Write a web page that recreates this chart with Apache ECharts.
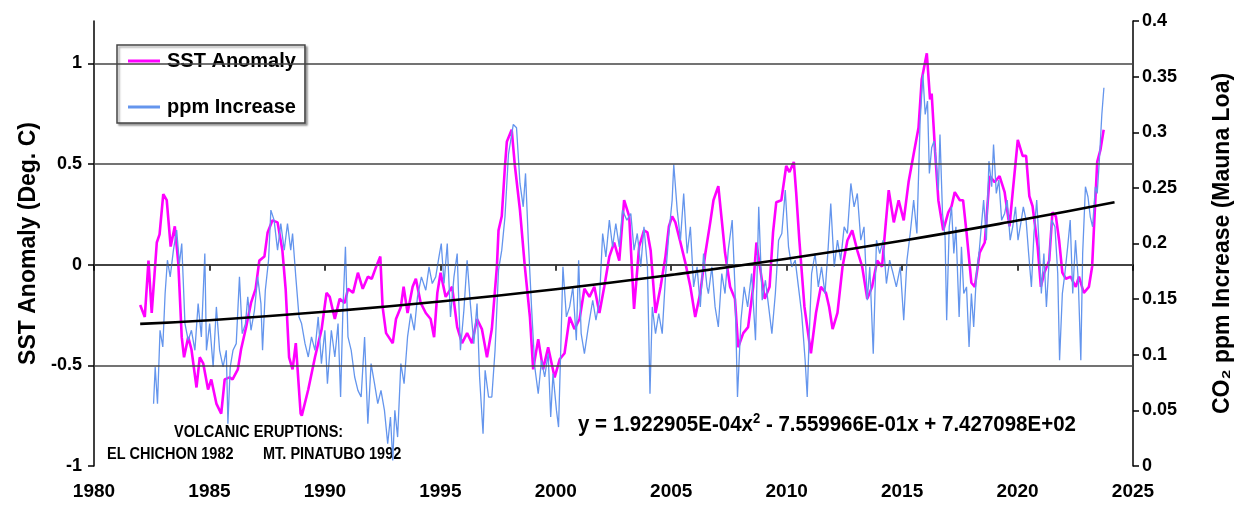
<!DOCTYPE html>
<html><head><meta charset="utf-8">
<script src="https://cdn.jsdelivr.net/npm/echarts@6/dist/echarts.min.js"></script>
<style>html,body{margin:0;padding:0;background:#fff}#c{width:1242px;height:512px}</style>
</head><body><div id="c"></div>
<script>
const xTicks = [1980,1985,1990,1995,2000,2005,2010,2015,2020,2025];
const leftTicks = [-1,-0.5,0,0.5,1];
const rightTicks = [0,0.05,0.1,0.15,0.2,0.25,0.3,0.35,0.4];

const sstYears = [1982.0,1982.2,1982.36,1982.5,1982.72,1982.84,1983.0,1983.15,1983.32,1983.5,1983.65,1983.8,1983.9,1984.08,1984.22,1984.44,1984.58,1984.73,1984.94,1985.08,1985.3,1985.51,1985.66,1985.87,1986.0,1986.23,1986.37,1986.59,1986.8,1987.0,1987.16,1987.38,1987.52,1987.73,1987.95,1988.16,1988.3,1988.45,1988.6,1988.74,1988.95,1989.0,1989.28,1989.57,1989.86,1990.07,1990.21,1990.43,1990.64,1990.86,1991.0,1991.22,1991.43,1991.64,1991.86,1992.03,1992.22,1992.4,1992.5,1992.65,1992.94,1993.08,1993.29,1993.41,1993.58,1993.8,1993.94,1994.15,1994.37,1994.58,1994.73,1994.87,1995.01,1995.23,1995.51,1995.73,1995.94,1996.16,1996.37,1996.59,1996.8,1997.02,1997.23,1997.45,1997.52,1997.66,1997.8,1997.88,1998.09,1998.23,1998.45,1998.66,1998.88,1999.02,1999.24,1999.45,1999.67,1999.95,2000.17,2000.38,2000.6,2000.81,2001.03,2001.24,2001.46,2001.67,2001.89,2002.1,2002.32,2002.53,2002.75,2002.96,2003.18,2003.39,2003.61,2003.82,2003.97,2004.11,2004.32,2004.54,2004.75,2004.9,2005.04,2005.18,2005.4,2005.61,2005.83,2006.04,2006.26,2006.47,2006.69,2006.83,2007.04,2007.19,2007.33,2007.55,2007.76,2007.9,2008.12,2008.33,2008.55,2008.69,2008.84,2009.05,2009.26,2009.41,2009.55,2009.77,2009.98,2010.12,2010.31,2010.41,2010.55,2010.77,2011.05,2011.27,2011.48,2011.7,2011.84,2011.99,2012.2,2012.42,2012.63,2012.84,2013.06,2013.27,2013.49,2013.7,2013.92,2014.13,2014.28,2014.42,2014.64,2014.85,2015.07,2015.28,2015.5,2015.71,2015.85,2016.07,2016.21,2016.28,2016.43,2016.57,2016.78,2017.0,2017.14,2017.28,2017.5,2017.64,2017.79,2018.0,2018.15,2018.36,2018.58,2018.79,2019.01,2019.22,2019.44,2019.65,2019.79,2020.01,2020.22,2020.37,2020.51,2020.65,2020.87,2021.01,2021.16,2021.37,2021.51,2021.66,2021.8,2021.94,2022.09,2022.3,2022.52,2022.66,2022.87,2023.09,2023.23,2023.3,2023.45,2023.59,2023.73];
const sstValues = [-0.20,-0.26,0.02,-0.24,0.11,0.15,0.35,0.32,0.09,0.19,0.01,-0.36,-0.46,-0.36,-0.42,-0.61,-0.46,-0.49,-0.62,-0.57,-0.69,-0.74,-0.57,-0.56,-0.57,-0.52,-0.42,-0.31,-0.19,-0.12,0.02,0.04,0.16,0.22,0.21,0.07,-0.12,-0.46,-0.52,-0.39,-0.74,-0.75,-0.62,-0.46,-0.32,-0.14,-0.16,-0.27,-0.17,-0.19,-0.12,-0.14,-0.04,-0.12,-0.06,-0.07,-0.01,0.04,-0.21,-0.34,-0.39,-0.27,-0.21,-0.11,-0.24,-0.11,-0.07,-0.19,-0.24,-0.27,-0.36,-0.14,-0.04,-0.16,-0.11,-0.31,-0.39,-0.34,-0.39,-0.27,-0.32,-0.46,-0.32,-0.01,0.17,0.24,0.49,0.61,0.67,0.49,0.27,-0.01,-0.26,-0.52,-0.37,-0.52,-0.41,-0.56,-0.47,-0.44,-0.26,-0.32,-0.27,-0.12,-0.16,-0.11,-0.24,-0.11,0.04,0.11,0.02,0.32,0.24,-0.22,0.09,0.17,0.16,0.07,-0.24,-0.11,0.04,0.19,0.24,0.21,0.11,0.01,-0.11,-0.26,-0.14,0.05,0.21,0.32,0.39,0.22,0.06,-0.11,-0.17,-0.41,-0.34,-0.31,-0.11,0.11,-0.01,-0.17,-0.11,0.16,0.31,0.32,0.49,0.46,0.51,0.36,0.12,-0.21,-0.44,-0.24,-0.11,-0.14,-0.21,-0.32,-0.24,-0.01,0.12,0.17,0.07,-0.01,-0.17,-0.11,0.02,-0.01,0.19,0.37,0.21,0.32,0.22,0.41,0.55,0.68,0.92,1.05,0.82,0.85,0.56,0.32,0.17,0.26,0.29,0.36,0.32,0.32,0.16,-0.09,-0.11,0.06,0.11,0.44,0.41,0.44,0.36,0.19,0.36,0.62,0.54,0.54,0.34,0.29,0.09,-0.11,-0.04,0.02,0.26,0.24,0.12,-0.04,-0.07,-0.06,-0.11,-0.06,-0.14,-0.11,-0.01,0.16,0.51,0.57,0.67];

const ppmYears = [1982.58,1982.65,1982.75,1982.86,1982.98,1983.08,1983.18,1983.3,1983.44,1983.58,1983.7,1983.8,1983.94,1984.08,1984.22,1984.37,1984.51,1984.65,1984.8,1984.87,1985.01,1985.16,1985.3,1985.44,1985.59,1985.73,1985.8,1985.9,1986.02,1986.16,1986.3,1986.42,1986.56,1986.66,1986.8,1986.95,1987.09,1987.23,1987.3,1987.42,1987.56,1987.66,1987.8,1987.95,1988.09,1988.24,1988.38,1988.52,1988.6,1988.74,1988.88,1988.99,1989.14,1989.28,1989.42,1989.57,1989.71,1989.85,1990.0,1990.11,1990.28,1990.43,1990.57,1990.68,1990.78,1990.89,1991.0,1991.14,1991.29,1991.43,1991.57,1991.72,1991.86,1992.0,1992.15,1992.29,1992.43,1992.58,1992.72,1992.84,1992.94,1993.03,1993.15,1993.29,1993.43,1993.58,1993.72,1993.87,1994.01,1994.18,1994.37,1994.51,1994.65,1994.8,1994.94,1995.04,1995.16,1995.3,1995.44,1995.59,1995.73,1995.87,1996.02,1996.16,1996.3,1996.45,1996.59,1996.7,1996.85,1996.94,1997.09,1997.23,1997.37,1997.52,1997.66,1997.8,1997.95,1998.16,1998.3,1998.45,1998.59,1998.69,1998.81,1998.95,1999.09,1999.24,1999.38,1999.52,1999.67,1999.78,1999.88,2000.03,2000.12,2000.21,2000.31,2000.46,2000.6,2000.74,2000.89,2000.99,2001.1,2001.24,2001.41,2001.6,2001.74,2001.89,2002.03,2002.17,2002.32,2002.46,2002.6,2002.75,2002.89,2003.08,2003.25,2003.39,2003.53,2003.68,2003.82,2003.97,2004.08,2004.18,2004.32,2004.46,2004.61,2004.75,2004.9,2005.04,2005.11,2005.26,2005.4,2005.54,2005.69,2005.83,2005.97,2006.12,2006.26,2006.4,2006.55,2006.61,2006.76,2006.9,2007.04,2007.19,2007.33,2007.47,2007.64,2007.76,2007.87,2008.02,2008.16,2008.31,2008.48,2008.65,2008.79,2008.94,2009.08,2009.22,2009.36,2009.51,2009.65,2009.79,2009.94,2010.08,2010.22,2010.37,2010.51,2010.65,2010.8,2010.89,2010.98,2011.08,2011.23,2011.37,2011.51,2011.66,2011.8,2011.91,2012.06,2012.2,2012.34,2012.49,2012.63,2012.78,2012.92,2013.06,2013.21,2013.35,2013.49,2013.6,2013.75,2013.89,2014.03,2014.18,2014.32,2014.46,2014.61,2014.75,2014.92,2015.07,2015.21,2015.35,2015.5,2015.64,2015.78,2015.9,2016.0,2016.1,2016.18,2016.28,2016.38,2016.47,2016.57,2016.64,2016.75,2016.86,2016.93,2017.04,2017.14,2017.24,2017.33,2017.47,2017.57,2017.67,2017.79,2017.9,2018.0,2018.1,2018.22,2018.33,2018.43,2018.53,2018.65,2018.76,2018.88,2018.96,2019.08,2019.19,2019.31,2019.44,2019.55,2019.68,2019.79,2019.91,2020.02,2020.14,2020.25,2020.37,2020.48,2020.6,2020.71,2020.83,2020.94,2021.03,2021.14,2021.25,2021.37,2021.48,2021.62,2021.74,2021.82,2021.94,2022.05,2022.17,2022.28,2022.39,2022.51,2022.63,2022.74,2022.82,2022.94,2023.05,2023.15,2023.25,2023.37,2023.45,2023.54,2023.65,2023.74];
const ppmValues = [0.056,0.089,0.056,0.122,0.107,0.155,0.185,0.170,0.194,0.212,0.182,0.200,0.128,0.113,0.122,0.104,0.146,0.116,0.191,0.104,0.128,0.089,0.143,0.104,0.089,0.104,0.038,0.089,0.104,0.110,0.170,0.119,0.128,0.152,0.122,0.140,0.170,0.146,0.104,0.158,0.185,0.230,0.221,0.194,0.218,0.194,0.218,0.194,0.209,0.170,0.134,0.128,0.110,0.098,0.116,0.104,0.134,0.092,0.122,0.074,0.122,0.098,0.128,0.062,0.140,0.197,0.116,0.104,0.080,0.068,0.062,0.116,0.038,0.092,0.074,0.056,0.068,0.050,0.020,0.044,0.005,0.050,0.026,0.092,0.074,0.116,0.137,0.122,0.152,0.170,0.158,0.179,0.164,0.170,0.188,0.200,0.164,0.200,0.134,0.170,0.191,0.104,0.140,0.185,0.146,0.110,0.146,0.080,0.029,0.086,0.062,0.062,0.104,0.176,0.194,0.224,0.280,0.307,0.304,0.254,0.233,0.263,0.203,0.143,0.089,0.065,0.095,0.080,0.101,0.044,0.083,0.050,0.035,0.101,0.179,0.134,0.143,0.161,0.113,0.185,0.119,0.101,0.125,0.149,0.131,0.149,0.209,0.188,0.221,0.197,0.218,0.197,0.230,0.221,0.227,0.194,0.209,0.179,0.215,0.179,0.065,0.143,0.119,0.137,0.119,0.170,0.209,0.239,0.271,0.230,0.203,0.245,0.191,0.215,0.161,0.179,0.143,0.191,0.161,0.155,0.179,0.143,0.125,0.173,0.155,0.194,0.221,0.161,0.062,0.131,0.161,0.143,0.173,0.113,0.233,0.149,0.167,0.143,0.119,0.155,0.203,0.209,0.248,0.197,0.179,0.185,0.161,0.137,0.095,0.062,0.119,0.173,0.191,0.161,0.179,0.155,0.197,0.236,0.179,0.203,0.185,0.215,0.209,0.254,0.233,0.245,0.203,0.215,0.149,0.179,0.101,0.203,0.191,0.203,0.164,0.185,0.173,0.161,0.179,0.131,0.185,0.209,0.239,0.209,0.310,0.352,0.316,0.328,0.263,0.286,0.292,0.274,0.248,0.298,0.227,0.206,0.131,0.215,0.233,0.191,0.215,0.134,0.197,0.155,0.161,0.107,0.155,0.125,0.173,0.191,0.215,0.239,0.203,0.274,0.251,0.289,0.245,0.257,0.221,0.227,0.239,0.203,0.215,0.233,0.203,0.218,0.233,0.221,0.191,0.161,0.209,0.239,0.197,0.155,0.191,0.143,0.185,0.221,0.215,0.173,0.095,0.155,0.173,0.197,0.221,0.155,0.203,0.167,0.095,0.191,0.251,0.242,0.224,0.215,0.251,0.245,0.274,0.316,0.340];

const trendYears = [1982,1985,1990,1995,2000,2005,2010,2015,2020,2024.2];
const trendValues = [-0.294,-0.276,-0.234,-0.183,-0.122,-0.051,0.029,0.119,0.219,0.310];

const zip = (xs, ys) => xs.map((x, i) => [x, ys[i]]);
const FONT = '"Liberation Sans", Arial, sans-serif';

const chart = echarts.init(document.getElementById('c'), null, {renderer: 'canvas'});
chart.setOption({
  animation: false,
  backgroundColor: '#fff',
  grid: {left: 94, right: 101, top: 21, bottom: 46, containLabel: false},
  legend: {
    data: [
      {name: 'SST Anomaly', icon: 'rect', itemStyle: {color: '#FF00FF'}},
      {name: 'ppm Increase', icon: 'rect', itemStyle: {color: '#6495ED'}}
    ],
    orient: 'vertical', left: 117, top: 45,
    itemWidth: 32, itemHeight: 3, itemGap: 26,
    padding: [6, 9, 6, 11],
    backgroundColor: '#fff', borderColor: '#444', borderWidth: 1.5,
    shadowColor: 'rgba(0,0,0,0.35)', shadowBlur: 2, shadowOffsetX: 2, shadowOffsetY: 2,
    textStyle: {fontFamily: FONT, fontWeight: 'bold', fontSize: 20, color: '#000', padding: [0, 0, 0, 2]}
  },
  xAxis: {
    type: 'value', min: xTicks[0], max: xTicks[xTicks.length - 1], interval: 5,
    axisLine: {lineStyle: {color: '#000', width: 1.5}},
    axisTick: {show: true, length: 6, lineStyle: {color: '#000', width: 1.5}},
    axisLabel: {fontFamily: FONT, fontWeight: 'bold', fontSize: 19, color: '#000', margin: 16, formatter: v => String(v)},
    splitLine: {show: false}
  },
  yAxis: [{
    type: 'value', min: -1, max: 1.21, interval: 0.5, position: 'left',
    name: 'SST Anomaly (Deg. C)', nameLocation: 'middle', nameRotate: 90, nameGap: 51,
    nameTextStyle: {fontFamily: FONT, fontWeight: 'bold', fontSize: 23, color: '#000'},
    axisLine: {show: true, lineStyle: {color: '#000', width: 1.5}},
    axisTick: {show: true, length: 6, customValues: leftTicks, lineStyle: {color: '#000', width: 1.5}},
    axisLabel: {customValues: leftTicks, fontFamily: FONT, fontWeight: 'bold', fontSize: 18, color: '#000', margin: 12},
    splitLine: {show: false}
  }, {
    type: 'value', min: 0, max: 0.4, interval: 0.05, position: 'right',
    name: 'CO\u2082 ppm Increase (Mauna Loa)', nameLocation: 'middle', nameRotate: 90, nameGap: 78,
    nameTextStyle: {fontFamily: FONT, fontWeight: 'bold', fontSize: 23, color: '#000'},
    axisLine: {show: true, lineStyle: {color: '#000', width: 1.5}},
    axisTick: {show: true, length: 6, lineStyle: {color: '#000', width: 1.5}},
    axisLabel: {fontFamily: FONT, fontWeight: 'bold', fontSize: 18, color: '#000', margin: 9},
    splitLine: {show: false}
  }],
  series: [{
    name: 'grid', type: 'line', data: [], z: 1, silent: true,
    markLine: {
      silent: true, symbol: 'none', label: {show: false},
      lineStyle: {color: '#444', width: 1.5, type: 'solid'},
      data: leftTicks.filter(v => v > -1).map(v => ({yAxis: v}))
    }
  }, {
    name: 'SST Anomaly', type: 'line', yAxisIndex: 0, showSymbol: false, symbol: 'none',
    data: zip(sstYears, sstValues), z: 3,
    lineStyle: {color: '#FF00FF', width: 2.6}, itemStyle: {color: '#FF00FF'}
  }, {
    name: 'ppm Increase', type: 'line', yAxisIndex: 1, showSymbol: false, symbol: 'none',
    data: zip(ppmYears, ppmValues), z: 4,
    lineStyle: {color: '#6495ED', width: 1.3}, itemStyle: {color: '#6495ED'}
  }, {
    name: 'trend', type: 'line', yAxisIndex: 0, showSymbol: false, symbol: 'none', smooth: true,
    data: zip(trendYears, trendValues), z: 5,
    lineStyle: {color: '#000', width: 2.6}
  }],
  graphic: [
    {type: 'text', x: 174, y: 423, scaleY: 1.2, style: {text: 'VOLCANIC ERUPTIONS:', font: 'bold 14.5px ' + FONT, fill: '#000', textVerticalAlign: 'top'}},
    {type: 'text', x: 107, y: 445, scaleY: 1.2, style: {text: 'EL CHICHON 1982', font: 'bold 14.5px ' + FONT, fill: '#000', textVerticalAlign: 'top'}},
    {type: 'text', x: 263, y: 445, scaleY: 1.2, style: {text: 'MT. PINATUBO 1992', font: 'bold 14.5px ' + FONT, fill: '#000', textVerticalAlign: 'top'}},
    {type: 'text', x: 578, y: 412, scaleY: 1.12, style: {
      text: '{a|y = 1.922905E-04x}{s|2}{a| - 7.559966E-01x + 7.427098E+02}',
      textVerticalAlign: 'top',
      rich: {
        a: {fontFamily: FONT, fontWeight: 'bold', fontSize: 20.5, fill: '#000', color: '#000'},
        s: {fontFamily: FONT, fontWeight: 'bold', fontSize: 13, fill: '#000', color: '#000', padding: [0, 0, 10, 0]}
      }
    }}
  ]
});
</script>
</body></html>
